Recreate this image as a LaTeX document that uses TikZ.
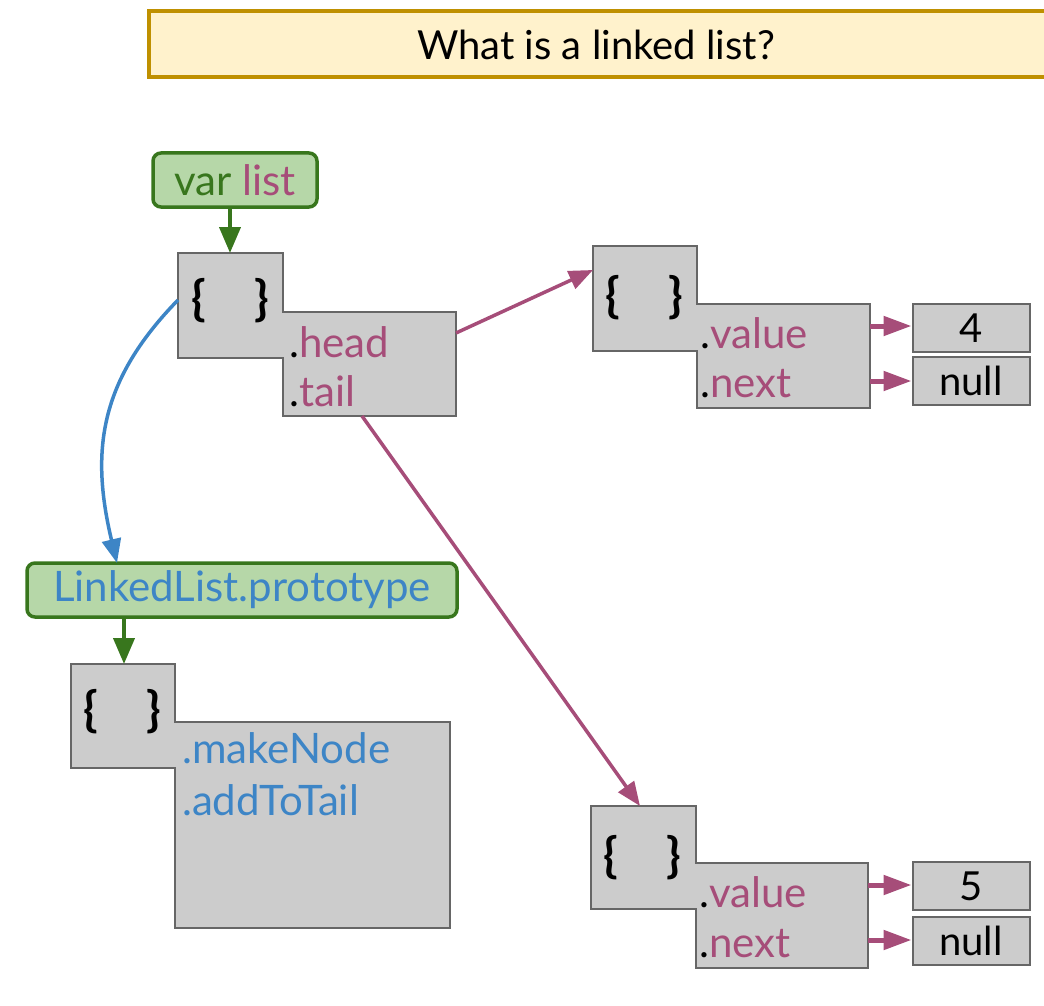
\documentclass[tikz,border=0pt]{standalone}
\usepackage{fontspec}
\setmainfont{Lato}
\usepackage{tikz}
\usetikzlibrary{positioning}
\usetikzlibrary{arrows.meta}
\definecolor{hlmagenta}{RGB}{166,77,121}
\definecolor{hlblue}{RGB}{61,133,198}
\definecolor{hlgreen}{RGB}{56,118,29}
\definecolor{varfill}{RGB}{182,215,168}
\definecolor{objgray}{RGB}{204,204,204}
\definecolor{objline}{RGB}{102,102,102}
\definecolor{titlefill}{RGB}{255,242,204}
\definecolor{titleline}{RGB}{191,144,0}
\newcommand{\emptyobj}{{\fontsize{48}{56}\selectfont\textbf{\{\hspace{48pt}\}}}}
\newcommand{\field}[1]{.{\color{hlmagenta}#1}}
\newcommand{\method}[1]{{\color{hlblue}.#1}}

\tikzset{
	every node/.style={font=\fontsize{40}{48}\selectfont, inner sep=0pt},
	objbox/.style={fill=objgray, draw=objline, line width=2pt},
	valbox/.style={objbox, minimum width=117pt, minimum height=48pt},
	varbox/.style={fill=varfill, draw=hlgreen, line width=3.5pt, rounded corners=8pt, minimum height=54pt, font=\fontsize{42}{50}\selectfont},
	fieldlabel/.style={anchor=base west, font=\fontsize{42}{50}\selectfont},
	greenarrow/.style={draw=hlgreen, line width=4pt, -{Triangle[length=26pt,width=21pt]}},
	ptrarrow/.style={draw=hlmagenta, line width=3.5pt, -{Triangle[length=24pt,width=19pt]}},
	valarrow/.style={draw=hlmagenta, line width=5pt, -{Triangle[length=28pt,width=19pt]}},
	protoarrow/.style={draw=hlblue, line width=3.5pt, -{Triangle[length=24pt,width=19pt]}}
}

\begin{document}
\begin{tikzpicture}[x=1pt, y=-1pt]
	\useasboundingbox (0,0) rectangle (1044,1006);

	\draw[fill=titlefill, draw=titleline, line width=4pt] (149,11) rectangle (1052,77);
	\node (title) at (596,45) {What is a linked list?};

	\node[varbox, minimum width=164pt] (var) at (235,180) {{\color{hlgreen}var} {\color{hlmagenta}list}};

	\draw[objbox] (178,253) -- (283,253) -- (283,312) -- (456,312) -- (456,416) -- (283,416) -- (283,358) -- (178,358) -- cycle;
	\node (list) at (230,301) {\emptyobj};
	\node[fieldlabel] (head) at (289,357) {\field{head}};
	\node[fieldlabel] (tail) at (289,406) {\field{tail}};
	\coordinate (listtop) at (230,253);
	\coordinate (listwest) at (178,300);
	\coordinate (listhead) at (456,333);
	\coordinate (listtail) at (362,416);

	\draw[objbox] (593,246) -- (697,246) -- (697,304) -- (870,304) -- (870,408) -- (697,408) -- (697,351) -- (593,351) -- cycle;
	\node (first) at (644,298) {\emptyobj};
	\node[fieldlabel] (firstvalue) at (700,348) {\field{value}};
	\node[fieldlabel] (firstnext) at (700,397) {\field{next}};
	\coordinate (firstwest) at (593,270);
	\coordinate (firstval) at (870,326);
	\coordinate (firstnxt) at (870,381);
	\node[valbox] (four) at (971,328) {4};
	\node[valbox] (nullone) at (971,381) {null};

	\draw[objbox] (591,806) -- (696,806) -- (696,863) -- (868,863) -- (868,968) -- (696,968) -- (696,909) -- (591,909) -- cycle;
	\node (second) at (642,858) {\emptyobj};
	\node[fieldlabel] (secondvalue) at (699,907) {\field{value}};
	\node[fieldlabel] (secondnext) at (699,957) {\field{next}};
	\coordinate (secondtop) at (640,806);
	\coordinate (secondval) at (868,885);
	\coordinate (secondnxt) at (868,940);
	\node[valbox] (five) at (971,886) {5};
	\node[valbox] (nulltwo) at (971,941) {null};

	\node[varbox, minimum width=430pt] (proto) at (242,590) {\color{hlblue}LinkedList.prototype};
	\draw[objbox] (71,664) -- (175,664) -- (175,722) -- (450,722) -- (450,928) -- (175,928) -- (175,768) -- (71,768) -- cycle;
	\node (protoobj) at (122,712) {\emptyobj};
	\node[fieldlabel] (makenode) at (182,763) {\method{makeNode}};
	\node[fieldlabel] (addtotail) at (182,815) {\method{addToTail}};
	\coordinate (prototop) at (124,664);
	\coordinate (protoin) at (117,563);

	\draw[greenarrow] (var.south -| listtop) -- (listtop);
	\draw[greenarrow] (proto.south -| prototop) -- (prototop);
	\draw[protoarrow] (listwest) .. controls (100,380) and (90,450) .. (protoin);
	\draw[ptrarrow] (listhead) -- (firstwest);
	\draw[ptrarrow] (listtail) -- (secondtop);
	\draw[valarrow] (firstval) -- (four.west |- firstval);
	\draw[valarrow] (firstnxt) -- (nullone.west |- firstnxt);
	\draw[valarrow] (secondval) -- (five.west |- secondval);
	\draw[valarrow] (secondnxt) -- (nulltwo.west |- secondnxt);
\end{tikzpicture}
\end{document}
